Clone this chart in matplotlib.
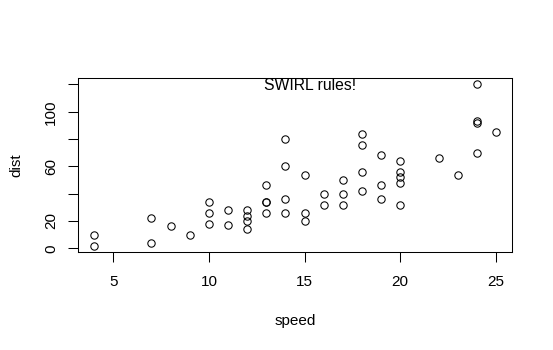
import matplotlib
matplotlib.use("Agg")
import matplotlib.pyplot as plt

plt.rcParams['font.family'] = ['Liberation Sans', 'DejaVu Sans']

# cars data set (speed, stopping distance)
speed = [4, 4, 7, 7, 8, 9, 10, 10, 10, 11, 11, 12, 12, 12, 12, 13, 13, 13, 13,
         14, 14, 14, 14, 15, 15, 15, 16, 16, 17, 17, 17, 18, 18, 18, 18, 19,
         19, 19, 20, 20, 20, 20, 20, 22, 23, 24, 24, 24, 24, 25]
dist = [2, 10, 4, 22, 16, 10, 18, 26, 34, 17, 28, 14, 20, 24, 28, 26, 34, 34,
        46, 26, 36, 60, 80, 20, 26, 54, 32, 40, 32, 40, 50, 42, 56, 76, 84, 36,
        46, 68, 32, 48, 52, 56, 64, 66, 54, 70, 92, 93, 120, 85]

xticks = [5, 10, 15, 20, 25]
yticks = [0, 20, 40, 60, 80, 100, 120]
ylabels = ["0", "20", "", "60", "", "100", ""]

fig = plt.figure(figsize=(5.53, 3.5), dpi=100)
ax = fig.add_axes([78/553, 98/350, 434/553, 174/350])

ax.plot(speed, dist, 'o', mfc='none', mec='black', ms=5.3, mew=0.75)
ax.text(15.3, 120, "SWIRL rules!", ha='center', va='center_baseline', fontsize=11.3)

# R style 4% padding
rx = max(speed) - min(speed)
ry = max(dist) - min(dist)
ax.set_xlim(min(speed) - 0.04*rx, max(speed) + 0.04*rx)
ax.set_ylim(min(dist) - 0.04*ry, max(dist) + 0.04*ry)

ax.set_xticks(xticks)
ax.set_yticks(yticks)
ax.set_yticklabels(ylabels, rotation=90, va='center')
ax.tick_params(axis='x', length=7.2, width=0.75, pad=9.5, labelsize=11)
ax.tick_params(axis='y', length=7.2, width=0.75, pad=7, labelsize=11)
for s in ax.spines.values():
    s.set_linewidth(0.75)

ax.set_xlabel("speed", fontsize=11, labelpad=18)
ax.set_ylabel("dist", fontsize=11, labelpad=15)

fig.savefig("out.png", dpi=100)
